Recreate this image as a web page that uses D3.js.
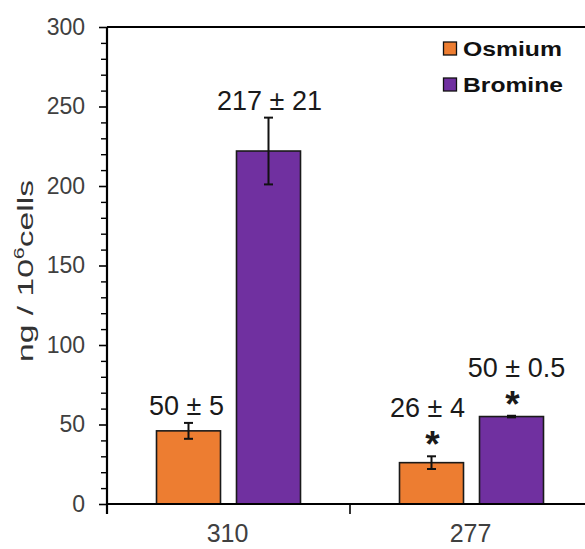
<!DOCTYPE html>
<html>
<head>
<meta charset="utf-8">
<script src="https://cdnjs.cloudflare.com/ajax/libs/d3/7.8.5/d3.min.js"></script>
<style>
  html, body { margin: 0; padding: 0; background: #fff; }
  svg { display: block; font-family: "Liberation Sans", Arial, sans-serif; }
</style>
</head>
<body>
<svg id="chart" width="585" height="549"></svg>
<script>
// ---- data ----
const categories = ["310", "277"];
const seriesNames = ["Osmium", "Bromine"];
const osmiumValues = [46, 26];
const bromineValues = [222, 55];
const osmiumErrors = [5, 4];
const bromineErrors = [21, 0.5];
const osmiumLabels = ["50 ± 5", "26 ± 4"];
const bromineLabels = ["217 ± 21", "50 ± 0.5"];
const osmiumSignificant = [false, true];
const bromineSignificant = [false, true];
const yTickValues = [0, 50, 100, 150, 200, 250, 300];
const yMinorTickValues = d3.range(0, 301, 10);
const seriesColors = ["#ED7D31", "#7030A0"];

// ---- layout ----
const svg = d3.select("#chart");
const pL = 107, pR = 593, pT = 27, pB = 504;

const y = d3.scaleLinear().domain([0, 300]).range([pB, pT]);
const x0 = d3.scaleBand().domain(categories).range([pL, pR]).padding(0);
const groupW = 144;
const x1 = d3.scaleBand().domain(seriesNames)
  .range([(x0.bandwidth() - groupW) / 2, (x0.bandwidth() + groupW) / 2])
  .paddingInner(0.2).paddingOuter(0);
const color = d3.scaleOrdinal().domain(seriesNames).range(seriesColors);

const rows = [];
categories.forEach((c, i) => {
  rows.push({cat: c, s: "Osmium", v: osmiumValues[i], e: osmiumErrors[i], label: osmiumLabels[i], sig: osmiumSignificant[i]});
  rows.push({cat: c, s: "Bromine", v: bromineValues[i], e: bromineErrors[i], label: bromineLabels[i], sig: bromineSignificant[i]});
});
const cx = d => x0(d.cat) + x1(d.s) + x1.bandwidth() / 2;

// top frame line
svg.append("line").attr("x1", pL).attr("x2", 585).attr("y1", y(300)).attr("y2", y(300))
  .attr("stroke", "#000").attr("stroke-width", 2);

// bars
svg.append("g").selectAll("rect").data(rows).join("rect")
  .attr("x", d => x0(d.cat) + x1(d.s))
  .attr("y", d => y(d.v))
  .attr("width", x1.bandwidth())
  .attr("height", d => y(0) - y(d.v))
  .attr("fill", d => color(d.s))
  .attr("stroke", "#1a1a1a").attr("stroke-width", 1.6);

// error bars
const eg = svg.append("g").attr("stroke", "#111").attr("stroke-width", 2);
rows.forEach(d => {
  const c = cx(d);
  eg.append("line").attr("x1", c).attr("x2", c).attr("y1", y(d.v + d.e)).attr("y2", y(d.v - d.e));
  eg.append("line").attr("x1", c - 4.5).attr("x2", c + 4.5).attr("y1", y(d.v + d.e)).attr("y2", y(d.v + d.e));
  eg.append("line").attr("x1", c - 4.5).attr("x2", c + 4.5).attr("y1", y(d.v - d.e)).attr("y2", y(d.v - d.e));
});

// value labels and asterisks
rows.forEach(d => {
  const c = cx(d);
  const eTop = y(d.v + d.e);
  const shift = d.sig ? (d.s === "Bromine" ? 5 : -4) : (d.s === "Bromine" ? 1 : -2);
  svg.append("text").attr("x", c + shift).attr("y", eTop - (d.sig ? 39 : 8))
    .attr("text-anchor", "middle").attr("font-size", 27).attr("fill", "#1a1a1a")
    .text(d.label);
  if (d.sig) {
    svg.append("text").attr("x", c + 1).attr("y", eTop - 17 + 18)
      .attr("text-anchor", "middle").attr("font-size", 37).attr("font-weight", "bold")
      .attr("fill", "#1a1a1a").text("*");
  }
});

// y axis
const yAxis = d3.axisLeft(y).tickValues(yTickValues).tickSize(8).tickPadding(14);
const ya = svg.append("g").attr("transform", `translate(${pL},0)`).call(yAxis);
ya.select(".domain").attr("stroke", "#000").attr("stroke-width", 2.2)
  .attr("d", `M0,${y(300)}V${pB + 10}`);
ya.selectAll(".tick line").attr("stroke", "#000").attr("stroke-width", 1.6);
ya.selectAll(".tick text").attr("font-size", 23).attr("fill", "#404040")
  .attr("font-family", "Liberation Sans, Arial, sans-serif");
const yMinor = d3.axisLeft(y).tickValues(yMinorTickValues.filter(v => v % 50 !== 0)).tickSize(6).tickFormat("");
const ym = svg.append("g").attr("transform", `translate(${pL},0)`).call(yMinor);
ym.select(".domain").remove();
ym.selectAll(".tick line").attr("stroke", "#000").attr("stroke-width", 1.4);

// x axis
const xa = svg.append("g").attr("transform", `translate(0,${pB})`);
xa.append("line").attr("x1", pL).attr("x2", 585).attr("y1", 0).attr("y2", 0)
  .attr("stroke", "#000").attr("stroke-width", 2.2);
categories.forEach(c => {
  xa.append("line").attr("x1", x0(c) + x0.bandwidth()).attr("x2", x0(c) + x0.bandwidth())
    .attr("y1", 0).attr("y2", 10).attr("stroke", "#000").attr("stroke-width", 1.6);
  xa.append("text").attr("x", x0(c) + x0.bandwidth() / 2 - 1).attr("y", 38)
    .attr("text-anchor", "middle").attr("font-size", 25).attr("fill", "#404040").text(c);
});

// y title
const title = svg.append("text").attr("text-anchor", "middle").attr("font-size", 22).attr("fill", "#333");
title.append("tspan").text("ng / 10");
title.append("tspan").attr("font-size", 14).attr("dy", -9).text("6");
title.append("tspan").attr("dy", 9).text("cells");
const tl = title.node().getComputedTextLength();
const tScale = 182 / tl;
title.attr("transform", `translate(33,271) rotate(-90) scale(${tScale},1)`);

// legend
const legend = svg.append("g");
seriesNames.forEach((s, i) => {
  const gy = 42 + i * 36;
  legend.append("rect").attr("x", 443.5).attr("y", gy).attr("width", 13).attr("height", 13)
    .attr("fill", color(s)).attr("stroke", "#111").attr("stroke-width", 1.3);
  const t = legend.append("text").attr("font-size", 20).attr("font-weight", "bold").attr("fill", "#111").text(s);
  const w = t.node().getComputedTextLength();
  const target = s === "Osmium" ? 99 : 100;
  t.attr("transform", `translate(463,${gy + 13.5}) scale(${target / w},1)`);
});
</script>
</body>
</html>
